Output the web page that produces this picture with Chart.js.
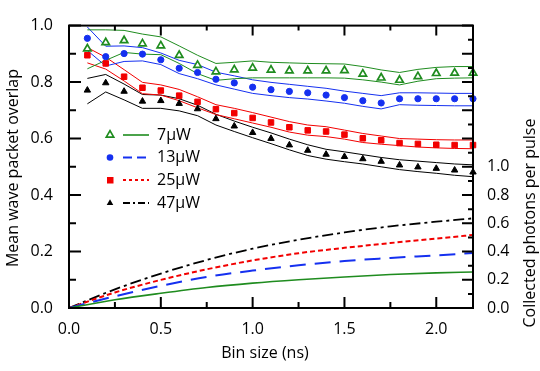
<!DOCTYPE html>
<html>
<head>
<meta charset="utf-8">
<script src="https://cdn.jsdelivr.net/npm/chart.js@4.4.1/dist/chart.umd.min.js"></script>
<style>
  html, body { margin: 0; padding: 0; background: #fff; }
  #wrap { width: 540px; height: 371px; position: relative; }
</style>
</head>
<body>
<div id="wrap"><canvas id="overlapChart"></canvas></div>
<script>
// Bin sizes where the overlap was evaluated (ns)
const binSizes = [0.1, 0.2, 0.3, 0.4, 0.5, 0.6, 0.7, 0.8, 0.9, 1.0, 1.1,
                  1.2, 1.3, 1.4, 1.5, 1.6, 1.7, 1.8, 1.9, 2.0, 2.1, 2.2];

// Mean wave packet overlap (markers) with upper / lower bound lines
const overlap7   = [0.918, 0.940, 0.947, 0.936, 0.929, 0.895, 0.860, 0.837, 0.844, 0.850, 0.843, 0.840, 0.840, 0.840, 0.841, 0.829, 0.815, 0.807, 0.820, 0.831, 0.832, 0.832];
const overlap7Hi = [0.985, 0.985, 0.983, 0.970, 0.960, 0.928, 0.895, 0.866, 0.870, 0.875, 0.870, 0.868, 0.866, 0.865, 0.864, 0.855, 0.843, 0.834, 0.845, 0.852, 0.855, 0.855];
const overlap7Lo = [0.847, 0.877, 0.905, 0.899, 0.897, 0.866, 0.830, 0.806, 0.812, 0.815, 0.815, 0.815, 0.815, 0.815, 0.814, 0.808, 0.800, 0.790, 0.803, 0.812, 0.814, 0.815];

const overlap13   = [0.955, 0.890, 0.901, 0.899, 0.879, 0.849, 0.834, 0.810, 0.797, 0.782, 0.773, 0.767, 0.762, 0.754, 0.745, 0.734, 0.726, 0.741, 0.741, 0.741, 0.741, 0.741];
const overlap13Hi = [0.995, 0.927, 0.928, 0.922, 0.903, 0.877, 0.862, 0.835, 0.822, 0.808, 0.799, 0.792, 0.785, 0.778, 0.768, 0.760, 0.752, 0.762, 0.762, 0.761, 0.760, 0.760];
const overlap13Lo = [0.912, 0.857, 0.873, 0.875, 0.862, 0.830, 0.812, 0.790, 0.775, 0.760, 0.752, 0.745, 0.740, 0.733, 0.725, 0.714, 0.705, 0.720, 0.718, 0.717, 0.716, 0.716];

const overlap25   = [0.895, 0.866, 0.819, 0.780, 0.770, 0.752, 0.730, 0.704, 0.690, 0.673, 0.657, 0.640, 0.629, 0.625, 0.614, 0.601, 0.594, 0.584, 0.581, 0.578, 0.577, 0.577];
const overlap25Hi = [0.922, 0.888, 0.844, 0.799, 0.790, 0.774, 0.748, 0.720, 0.707, 0.692, 0.676, 0.660, 0.648, 0.642, 0.630, 0.618, 0.609, 0.600, 0.598, 0.596, 0.595, 0.595];
const overlap25Lo = [0.868, 0.846, 0.804, 0.759, 0.754, 0.734, 0.709, 0.685, 0.670, 0.655, 0.640, 0.623, 0.612, 0.607, 0.598, 0.586, 0.580, 0.575, 0.570, 0.567, 0.565, 0.564];

const overlap47   = [0.771, 0.797, 0.767, 0.732, 0.734, 0.724, 0.705, 0.670, 0.644, 0.621, 0.600, 0.577, 0.558, 0.544, 0.536, 0.528, 0.519, 0.506, 0.499, 0.494, 0.488, 0.481];
const overlap47Hi = [0.813, 0.827, 0.793, 0.756, 0.754, 0.741, 0.718, 0.686, 0.662, 0.640, 0.620, 0.598, 0.578, 0.562, 0.553, 0.543, 0.533, 0.525, 0.520, 0.515, 0.510, 0.507];
const overlap47Lo = [0.723, 0.765, 0.737, 0.707, 0.707, 0.698, 0.681, 0.648, 0.625, 0.603, 0.582, 0.560, 0.540, 0.527, 0.518, 0.510, 0.500, 0.490, 0.483, 0.477, 0.470, 0.465];

// Collected photons per pulse (right axis)
const photonBins = [0, 0.25, 0.5, 0.75, 1.0, 1.25, 1.5, 1.75, 2.0, 2.2];
const photons7   = [0, 0.058, 0.104, 0.145, 0.176, 0.200, 0.220, 0.237, 0.249, 0.255];
const photons13  = [0, 0.083, 0.157, 0.220, 0.265, 0.302, 0.333, 0.354, 0.373, 0.389];
const photons25  = [0, 0.110, 0.199, 0.274, 0.337, 0.388, 0.426, 0.460, 0.492, 0.517];
const photons47  = [0, 0.132, 0.244, 0.340, 0.420, 0.483, 0.535, 0.578, 0.611, 0.635];

// Tick labels
const xTicks = [0, 0.5, 1.0, 1.5, 2.0];
const overlapTicks = [0, 0.2, 0.4, 0.6, 0.8, 1.0];
const photonTicks = [0, 0.2, 0.4, 0.6, 0.8, 1.0, 1.2, 1.4, 1.6, 1.8, 2.0];
const photonLabelMax = 1.0;
const legendLabels = ['7\u03bcW', '13\u03bcW', '25\u03bcW', '47\u03bcW'];

const FONT = '"Open Sans", "Noto Sans", sans-serif';
const GREEN = '#1f8c1f', BLUE = '#1530f0', RED = '#f20000', BLACK = '#000000';

function pts(xs, ys) {
    return xs.map((x, i) => ({ x: x, y: ys[i] }));
}

function markerSet(label, data, style, color, fill, radius) {
    return {
        label: label, data: pts(binSizes, data), yAxisID: 'y', showLine: false,
        pointStyle: style, pointRadius: radius, borderColor: color,
        pointBackgroundColor: fill, pointBorderColor: color, pointBorderWidth: style === 'triangle' && fill === '#fff' ? 1.7 : 1,
        clip: false
    };
}

function boundSet(data, color) {
    return {
        data: pts(binSizes, data), yAxisID: 'y', borderColor: color, borderWidth: 1,
        pointRadius: 0, tension: 0, fill: false
    };
}

function photonSet(data, color, dash, width) {
    return {
        data: pts(photonBins, data), yAxisID: 'y2', borderColor: color, borderWidth: width,
        borderDash: dash, pointRadius: 0, cubicInterpolationMode: 'monotone', fill: false
    };
}

// Inward tick marks + full frame
const frameTicks = {
    id: 'frameTicks',
    afterDatasetsDraw(chart) {
        const { ctx, chartArea: a, scales: { x, y, y2 } } = chart;
        ctx.save();
        ctx.strokeStyle = '#000';
        ctx.lineWidth = 2;
        ctx.beginPath();
        const tick = (px, py, dx, dy) => { ctx.moveTo(px, py); ctx.lineTo(px + dx, py + dy); };
        xTicks.forEach((v, i) => {
            const px = x.getPixelForValue(v);
            tick(px, a.bottom, 0, -11);
            tick(px, a.top, 0, 10);
            if (i < xTicks.length - 1) {
                const mx = x.getPixelForValue((v + xTicks[i + 1]) / 2);
                tick(mx, a.bottom, 0, -6);
                tick(mx, a.top, 0, 5);
            }
        });
        overlapTicks.forEach((v, i) => {
            tick(a.left, y.getPixelForValue(v), 12, 0);
            if (i < overlapTicks.length - 1) tick(a.left, y.getPixelForValue((v + overlapTicks[i + 1]) / 2), 7, 0);
        });
        photonTicks.forEach((v, i) => {
            tick(a.right, y2.getPixelForValue(v), -11, 0);
            if (i < photonTicks.length - 1) tick(a.right, y2.getPixelForValue((v + photonTicks[i + 1]) / 2), -5, 0);
        });
        ctx.stroke();
        ctx.strokeRect(a.left, a.top, a.right - a.left, a.bottom - a.top);
        ctx.restore();
    }
};

// Legend and axis titles
const annotations = {
    id: 'annotations',
    afterDraw(chart) {
        const ctx = chart.ctx;
        ctx.save();
        ctx.fillStyle = '#000';
        ctx.font = '16px ' + FONT;
        ctx.textBaseline = 'middle';

        const rows = [135, 157.5, 180, 203];
        const items = [
            { color: GREEN, dash: [], marker: 'openTri' },
            { color: BLUE, dash: [9, 5], marker: 'circle' },
            { color: RED, dash: [3, 3], marker: 'square' },
            { color: BLACK, dash: [7, 3, 2, 3], marker: 'tri' }
        ];
        items.forEach((it, i) => {
            const ry = rows[i];
            ctx.strokeStyle = it.color;
            ctx.fillStyle = it.color;
            ctx.lineWidth = it.marker === 'openTri' ? 1.6 : 2;
            ctx.setLineDash(it.dash);
            ctx.beginPath();
            ctx.moveTo(123, ry);
            ctx.lineTo(149, ry);
            ctx.stroke();
            ctx.setLineDash([]);
            ctx.beginPath();
            if (it.marker === 'openTri' || it.marker === 'tri') {
                const r = it.marker === 'openTri' ? 4.3 : 3.8;
                ctx.moveTo(110, ry - r);
                ctx.lineTo(110 + r * 0.866, ry + r / 2);
                ctx.lineTo(110 - r * 0.866, ry + r / 2);
                ctx.closePath();
                if (it.marker === 'openTri') { ctx.lineWidth = 1.7; ctx.stroke(); } else ctx.fill();
            } else if (it.marker === 'circle') {
                ctx.arc(110, ry, 3.3, 0, Math.PI * 2);
                ctx.fill();
            } else {
                ctx.rect(107, ry - 3, 6.5, 6.5);
                ctx.fill();
            }
            ctx.fillStyle = '#000';
            ctx.textAlign = 'left';
            ctx.fillText(legendLabels[i], 157, ry);
        });

        ctx.textAlign = 'center';
        ctx.fillText('Bin size (ns)', 265, 353);
        ctx.save();
        ctx.translate(13, 168);
        ctx.rotate(-Math.PI / 2);
        ctx.fillText('Mean wave packet overlap', 0, 0);
        ctx.restore();
        ctx.save();
        ctx.translate(530, 223);
        ctx.rotate(-Math.PI / 2);
        ctx.fillText('Collected photons per pulse', 0, 0);
        ctx.restore();
        ctx.restore();
    }
};

const tickFont = { family: FONT, size: 16 };

new Chart(document.getElementById('overlapChart'), {
    type: 'line',
    data: {
        datasets: [
            markerSet('7\u03bcW', overlap7, 'triangle', GREEN, '#fff', 4.3),
            markerSet('13\u03bcW', overlap13, 'circle', BLUE, BLUE, 3.1),
            markerSet('25\u03bcW', overlap25, 'rect', RED, RED, 3.9),
            markerSet('47\u03bcW', overlap47, 'triangle', BLACK, BLACK, 3.7),
            boundSet(overlap7Hi, GREEN), boundSet(overlap7Lo, GREEN),
            boundSet(overlap13Hi, BLUE), boundSet(overlap13Lo, BLUE),
            boundSet(overlap25Hi, RED), boundSet(overlap25Lo, RED),
            boundSet(overlap47Hi, BLACK), boundSet(overlap47Lo, BLACK),
            photonSet(photons7, GREEN, [], 1.6),
            photonSet(photons13, BLUE, [16, 9], 2),
            photonSet(photons25, RED, [5, 3], 2),
            photonSet(photons47, BLACK, [11, 4, 3, 4], 1.8)
        ]
    },
    options: {
        responsive: true,
        maintainAspectRatio: false,
        animation: false,
        events: [],
        layout: { padding: { top: 10, left: 0, right: 0, bottom: 0 } },
        plugins: { legend: { display: false }, tooltip: { enabled: false } },
        scales: {
            x: {
                type: 'linear', min: 0, max: 2.2,
                grid: { display: false, drawTicks: false },
                border: { display: false },
                afterBuildTicks: s => { s.ticks = xTicks.map(v => ({ value: v })); },
                afterFit: s => { s.height = 63; },
                ticks: { padding: 12, color: '#000', font: tickFont, autoSkip: false, maxRotation: 0,
                         callback: v => v.toFixed(1) }
            },
            y: {
                position: 'left', min: 0, max: 1,
                grid: { display: false, drawTicks: false },
                border: { display: false },
                afterBuildTicks: s => { s.ticks = overlapTicks.map(v => ({ value: v })); },
                afterFit: s => { s.width = 69; },
                ticks: { padding: 16, color: '#000', font: tickFont, callback: v => v.toFixed(1) }
            },
            y2: {
                position: 'right', min: 0, max: 2,
                grid: { display: false, drawTicks: false },
                border: { display: false },
                afterBuildTicks: s => { s.ticks = photonTicks.filter(v => v <= photonLabelMax).map(v => ({ value: v })); },
                afterFit: s => { s.width = 67; },
                ticks: { padding: 14, color: '#000', font: tickFont, callback: v => v.toFixed(1) }
            }
        }
    },
    plugins: [frameTicks, annotations]
});
</script>
</body>
</html>
